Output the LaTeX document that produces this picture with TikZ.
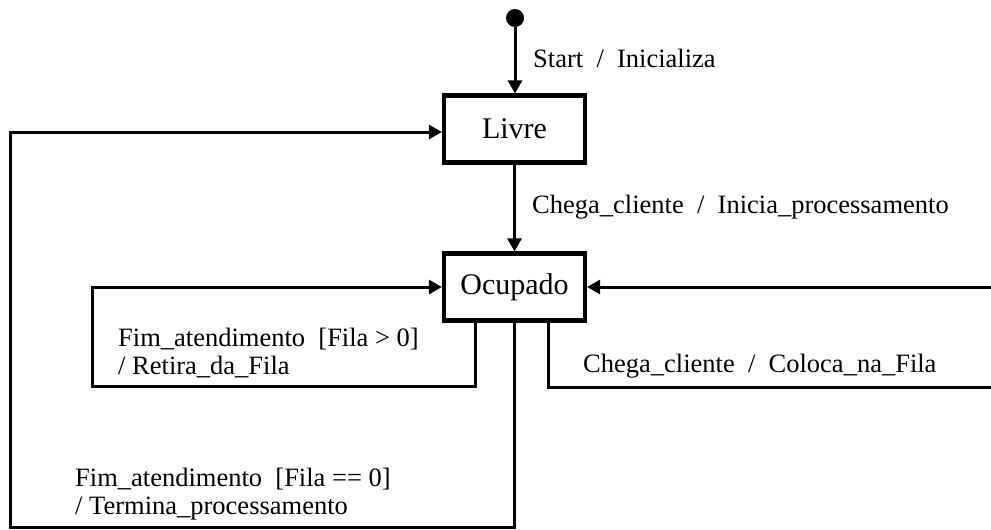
\documentclass[tikz,border=0pt]{standalone}
\usepackage{fontspec}
\setmainfont{Liberation Serif}
\usetikzlibrary{arrows.meta}
\begin{document}
\begin{tikzpicture}[x=1pt,y=-1pt,
  statebox/.style={draw,line width=4.2pt,minimum width=141pt,minimum height=67pt,
    inner sep=0pt,font=\fontsize{30}{34}\selectfont},
  conn/.style={line width=3pt},
  trans/.style={conn,-{Triangle[length=13pt,width=14pt]}},
  lbl/.style={anchor=base west,inner sep=0pt,align=left,
    font=\fontsize{26.5}{28}\selectfont}]
\useasboundingbox (0,0) rectangle (991,530);

% states
\node[circle,fill,minimum size=18pt,inner sep=0pt] (init) at (515,18) {};
\node[statebox] (livre) at (514.5,129) {Livre};
\node[statebox] (ocu) at (514.5,287) {Ocupado};

% corners of the looping transitions
\coordinate (lcorner) at (92,386);
\coordinate (ocorner) at (10,527);
\coordinate (rcorner) at (996,387);

% transitions
\draw[trans] (init) -- (init |- livre.north);
\draw[trans] (livre) -- (ocu);
\draw[trans] ([xshift=-39.5pt]ocu.south) |- (lcorner) |- (ocu.west);
\draw[trans] (ocu.south) |- (ocorner) |- ([yshift=-3pt]livre.west);
\draw[trans] ([xshift=33.5pt]ocu.south) |- (rcorner) |- (ocu.east);

% transition labels (multi-line labels sit on the baseline of their last line)
\node[lbl] (tstart) at (533,67) {Start~~/~~Inicializa};
\node[lbl] (tchega) at (532,213) {Chega\_cliente~~/~~Inicia\_processamento};
\node[lbl] (tfim1) at (118,374) {Fim\_atendimento~~[Fila > 0]\\/ Retira\_da\_Fila};
\node[lbl] (tfila) at (583,372) {Chega\_cliente~~/~~Coloca\_na\_Fila};
\node[lbl] (tfim0) at (75,514) {Fim\_atendimento~~[Fila == 0]\\/ Termina\_processamento};
\end{tikzpicture}
\end{document}
